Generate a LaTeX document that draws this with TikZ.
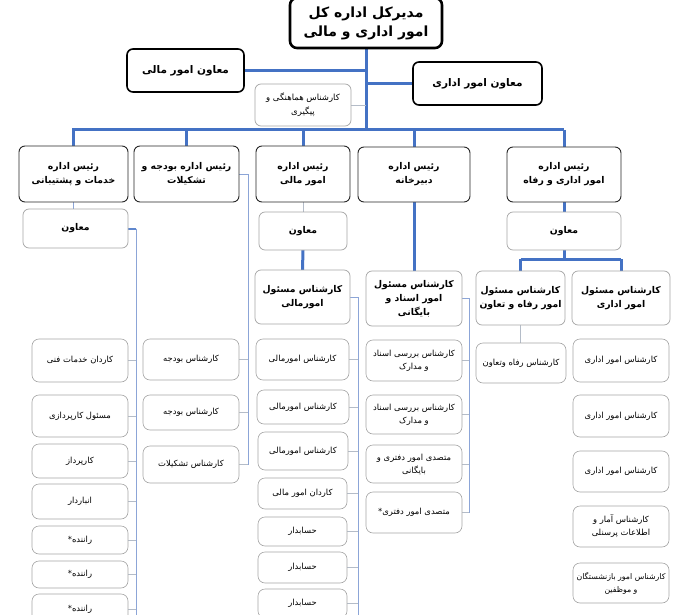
\documentclass[tikz,border=0pt]{standalone}
\usepackage{fontspec}
\usetikzlibrary{backgrounds}
\newfontfamily\arabicfont[Script=Arabic]{DejaVu Sans}
\TeXXeTstate=1
\newcommand\fa[1]{\beginR#1\endR}
\definecolor{mainblue}{RGB}{68,114,196}
\definecolor{midblue}{RGB}{95,135,205}
\definecolor{lightblue}{RGB}{140,165,215}
\definecolor{linegray}{RGB}{180,188,200}
\definecolor{boxgray}{RGB}{165,165,165}
\newcommand\obox[7]{\node[#2, minimum width={(#5-#3)*1pt}, minimum height={(#6-#4)*1pt}] (#1) at ({(#3+#5)/2},{(#4+#6)/2}) {#7};}
\begin{document}
\begin{tikzpicture}[x=1pt,y=-1pt,
  base/.style={rectangle, fill=white, inner sep=1pt, outer sep=0pt, align=center, text=black},
  topbox/.style={base, draw=black, line width=2.6pt, rounded corners=7pt, font=\arabicfont\bfseries\fontsize{14}{19}\selectfont},
  vicebox/.style={base, draw=black, line width=1.6pt, rounded corners=6pt, font=\arabicfont\bfseries\fontsize{10.5}{13}\selectfont},
  deptbox/.style={base, draw=black!85, line width=0.9pt, rounded corners=6pt, font=\arabicfont\bfseries\fontsize{9.3}{14}\selectfont},
  subbox/.style={base, draw=boxgray, line width=0.7pt, rounded corners=6pt, font=\arabicfont\bfseries\fontsize{9.3}{14}\selectfont},
  hambox/.style={base, draw=boxgray, line width=0.7pt, rounded corners=6pt, font=\arabicfont\fontsize{8.5}{14}\selectfont},
  leaf/.style={base, draw=boxgray, line width=0.6pt, rounded corners=7pt, font=\arabicfont\fontsize{8.4}{13}\selectfont},
  thickline/.style={draw=mainblue, line width=3pt},
  medline/.style={draw=midblue, line width=2pt},
  thinline/.style={draw=lightblue, line width=1pt},
  grayline/.style={draw=linegray, line width=0.8pt},
  tick/.style={draw=linegray, line width=0.6pt}
]
\useasboundingbox (0,0) rectangle (680,615);

% coordinates
\coordinate (busL) at (72,130);
\coordinate (busR) at (564,130);
\coordinate (kv) at (136,615);
\coordinate (bv) at (248,465);
\coordinate (mv) at (358,615);
\coordinate (dv) at (469,513);
\coordinate (eh) at (564,259);

% top level
\obox{top}{topbox}{290}{-2}{442}{48}{\fa{مدیرکل اداره کل}\\\fa{امور اداری و مالی}}
\obox{vm}{vicebox}{127}{49}{244}{92}{\fa{معاون امور مالی}}
\obox{va}{vicebox}{413}{62}{542}{105}{\fa{معاون امور اداری}}
\obox{ham}{hambox}{255}{84}{351}{126}{\fa{کارشناس هماهنگی و}\\\fa{پیگیری}}

% departments
\obox{k0}{deptbox}{19}{146}{128}{202}{\fa{رئیس اداره}\\\fa{خدمات و پشتیبانی}}
\obox{b0}{deptbox}{134}{146}{239}{202}{\fa{رئیس اداره بودجه و}\\\fa{تشکیلات}}
\obox{m0}{deptbox}{256}{146}{350}{202}{\fa{رئیس اداره}\\\fa{امور مالی}}
\obox{d0}{deptbox}{358}{147}{470}{202}{\fa{رئیس اداره}\\\fa{دبیرخانه}}
\obox{e0}{deptbox}{507}{147}{621}{202}{\fa{رئیس اداره}\\\fa{امور اداری و رفاه}}

% deputies
\obox{km}{subbox}{23}{209}{128}{248}{\fa{معاون}}
\obox{mm}{subbox}{259}{212}{347}{250}{\fa{معاون}}
\obox{em}{subbox}{507}{212}{621}{250}{\fa{معاون}}

% responsible experts
\obox{mk}{subbox}{255}{270}{350}{324}{\fa{کارشناس مسئول}\\\fa{امورمالی}}
\obox{dk}{subbox}{366}{271}{462}{326}{\fa{کارشناس مسئول}\\\fa{امور اسناد و}\\\fa{بایگانی}}
\obox{rk}{subbox}{476}{271}{565}{325}{\fa{کارشناس مسئول}\\\fa{امور رفاه و تعاون}}
\obox{ek}{subbox}{572}{271}{670}{325}{\fa{کارشناس مسئول}\\\fa{امور اداری}}

% khadamat leaves
\obox{k1}{leaf}{32}{339}{128}{382}{\fa{کاردان خدمات فنی}}
\obox{k2}{leaf}{32}{395}{128}{437}{\fa{مسئول کارپردازی}}
\obox{k3}{leaf}{32}{444}{128}{478}{\fa{کارپرداز}}
\obox{k4}{leaf}{32}{484}{128}{519}{\fa{انباردار}}
\obox{k5}{leaf}{32}{526}{128}{554}{\fa{راننده*}}
\obox{k6}{leaf}{32}{561}{128}{588}{\fa{راننده*}}
\obox{k7}{leaf}{32}{594}{128}{624}{\fa{راننده*}}

% budget leaves
\obox{b1}{leaf}{143}{339}{239}{380}{\fa{کارشناس بودجه}}
\obox{b2}{leaf}{143}{395}{239}{430}{\fa{کارشناس بودجه}}
\obox{b3}{leaf}{143}{446}{239}{483}{\fa{کارشناس تشکیلات}}

% mali leaves
\obox{m1}{leaf}{256}{339}{349}{380}{\fa{کارشناس امورمالی}}
\obox{m2}{leaf}{257}{390}{349}{424}{\fa{کارشناس امورمالی}}
\obox{m3}{leaf}{258}{432}{348}{470}{\fa{کارشناس امورمالی}}
\obox{m4}{leaf}{258}{478}{347}{509}{\fa{کاردان امور مالی}}
\obox{m5}{leaf}{258}{517}{347}{546}{\fa{حسابدار}}
\obox{m6}{leaf}{258}{552}{347}{583}{\fa{حسابدار}}
\obox{m7}{leaf}{258}{589}{347}{618}{\fa{حسابدار}}

% dabir leaves
\obox{d1}{leaf}{366}{340}{462}{381}{\fa{کارشناس بررسی اسناد}\\\fa{و مدارک}}
\obox{d2}{leaf}{366}{395}{462}{434}{\fa{کارشناس بررسی اسناد}\\\fa{و مدارک}}
\obox{d3}{leaf}{366}{445}{462}{483}{\fa{متصدی امور دفتری و}\\\fa{بایگانی}}
\obox{d4}{leaf}{366}{492}{462}{533}{\fa{متصدی امور دفتری*}}

% rafah leaf
\obox{r1}{leaf}{476}{343}{566}{383}{\fa{کارشناس رفاه وتعاون}}

% edari leaves
\obox{e1}{leaf}{573}{339}{669}{382}{\fa{کارشناس امور اداری}}
\obox{e2}{leaf}{573}{395}{669}{437}{\fa{کارشناس امور اداری}}
\obox{e3}{leaf}{573}{451}{669}{492}{\fa{کارشناس امور اداری}}
\obox{e4}{leaf}{573}{506}{669}{547}{\fa{کارشناس آمار و}\\\fa{اطلاعات پرسنلی}}
\obox{e5}{leaf, font=\arabicfont\fontsize{7.8}{13}\selectfont}{573}{563}{669}{603}{\fa{کارشناس امور بازنشستگان}\\\fa{و موظفین}}

% ---- connectors (drawn behind) ----
\begin{pgfonlayer}{background}
  % top structure
  \draw[thickline] (top.south) -- (top.south |- busL);
  \draw[thickline] (vm.east) -- (vm.east -| top.south);
  \draw[thickline] (va.west) -- (va.west -| top.south);
  \draw[grayline] (ham.east) -- (ham.east -| top.south);
  \draw[thickline] (busL) -- (busR);
  \draw[thickline] (k0.north |- busL) -- (k0.north);
  \draw[thickline] (b0.north |- busL) -- (b0.north);
  \draw[thickline] (m0.north |- busL) -- (m0.north);
  \draw[thickline] (d0.north |- busL) -- (d0.north);
  \draw[thickline] (e0.north |- busL) -- (e0.north);
  % khadamat
  \draw[thinline] (k0.south) -- (k0.south |- km.north);
  \draw[medline] (km.east) -- (km.east -| kv);
  \draw[thinline] (km.east -| kv) -- (kv);
  \foreach \n in {k1,k2,k3,k4,k5,k6,k7} \draw[tick] (\n.east) -- (\n.east -| kv);
  % budget
  \draw[thinline] (b0.east) -| (bv);
  \foreach \n in {b1,b2,b3} \draw[tick] (\n.east) -- (\n.east -| bv);
  % mali
  \draw[grayline] (m0.south) -- (mm.north);
  \draw[thickline] (mm.south) -- (mk.north);
  \draw[thinline] (mk.east) -| (mv);
  \foreach \n in {m1,m2,m3,m4,m5,m6,m7} \draw[tick] (\n.east) -- (\n.east -| mv);
  % dabir
  \draw[thickline] (d0.south) -- (dk.north);
  \draw[thinline] (dk.east) -| (dv);
  \foreach \n in {d1,d2,d3,d4} \draw[tick] (\n.east) -- (\n.east -| dv);
  % edari
  \draw[thickline] (e0.south) -- (em.north);
  \draw[thickline] (em.south) -- (eh);
  \draw[thickline] (rk.north |- eh) -- (ek.north |- eh);
  \draw[thickline] (rk.north |- eh) -- (rk.north);
  \draw[thickline] (ek.north |- eh) -- (ek.north);
  \draw[grayline] (rk.south) -- (r1.north -| rk.south);
\end{pgfonlayer}
\end{tikzpicture}
\end{document}
